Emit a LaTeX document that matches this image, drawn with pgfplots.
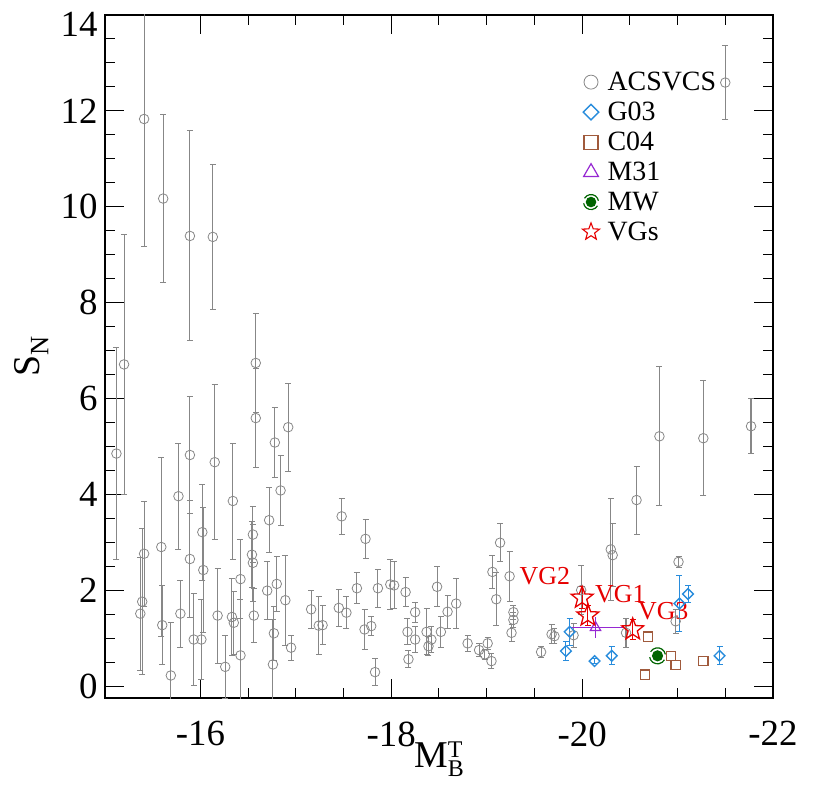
\documentclass[border=0pt]{standalone}
\usepackage{fontspec}
\setmainfont{Liberation Serif}
\usepackage{pgfplots}
\pgfplotsset{compat=1.18}

\definecolor{acsgray}{RGB}{135,135,135}
\definecolor{gblue}{RGB}{40,140,220}
\definecolor{cbrown}{RGB}{160,90,60}
\definecolor{mpurple}{RGB}{150,40,210}
\definecolor{mwgreen}{RGB}{0,100,0}
\definecolor{vgred}{RGB}{230,0,0}

% open five-pointed star
\pgfdeclareplotmark{ostar}{%
  \pgfpathmoveto{\pgfpointpolar{90}{\pgfplotmarksize}}%
  \pgfpathlineto{\pgfpointpolar{126}{0.42\pgfplotmarksize}}%
  \pgfpathlineto{\pgfpointpolar{162}{\pgfplotmarksize}}%
  \pgfpathlineto{\pgfpointpolar{198}{0.42\pgfplotmarksize}}%
  \pgfpathlineto{\pgfpointpolar{234}{\pgfplotmarksize}}%
  \pgfpathlineto{\pgfpointpolar{270}{0.42\pgfplotmarksize}}%
  \pgfpathlineto{\pgfpointpolar{306}{\pgfplotmarksize}}%
  \pgfpathlineto{\pgfpointpolar{342}{0.42\pgfplotmarksize}}%
  \pgfpathlineto{\pgfpointpolar{18}{\pgfplotmarksize}}%
  \pgfpathlineto{\pgfpointpolar{54}{0.42\pgfplotmarksize}}%
  \pgfpathclose\pgfusepathqstroke}

% milky way: filled disc with two arms
\pgfdeclareplotmark{mw}{%
  \pgfpathcircle{\pgfpointorigin}{0.62\pgfplotmarksize}\pgfusepathqfillstroke
  \pgfpathmoveto{\pgfpointpolar{10}{\pgfplotmarksize}}%
  \pgfpatharc{10}{150}{\pgfplotmarksize}%
  \pgfpathmoveto{\pgfpointpolar{190}{\pgfplotmarksize}}%
  \pgfpatharc{190}{330}{\pgfplotmarksize}%
  \pgfusepathqstroke}

\begin{document}
\begin{tikzpicture}
\begin{axis}[
  at={(0,0)}, anchor=south west,
  scale only axis, width=668bp, height=683bp,
  x dir=reverse,
  xmin=-22, xmax=-15, ymin=-0.25, ymax=14,
  xtick={-16,-18,-20,-22},
  xticklabels={-16,-18,-20,-22},
  minor x tick num=3,
  ytick={0,2,4,6,8,10,12,14},
  yticklabels={0,2,4,6,8,10,12,\raisebox{-9bp}[\height][\depth]{14}},
  minor y tick num=3,
  major tick length=19bp, minor tick length=10bp,
  tick style={black, line width=1bp},
  axis line style={line width=1.3bp},
  tick label style={font=\fontsize{37}{40}\selectfont},
  xticklabel style={yshift=-20bp},
  yticklabel style={xshift=-4bp},
  xlabel={M\raisebox{-9bp}{\fontsize{24}{21}\selectfont\shortstack[l]{T\\B}}},
  ylabel={S\textsubscript{N}},
  label style={font=\fontsize{38}{40}\selectfont},
  xlabel style={at={(axis description cs:0.5,-0.09)}, anchor=center},
  ylabel style={at={(axis description cs:-0.11,0.5)}, anchor=center},
  legend style={draw=none, fill=none, at={(axis description cs:0.71,0.921)},
    anchor=north west, font=\fontsize{28}{30}\selectfont,
    row sep=8bp, column sep=7bp, nodes={inner sep=1bp}},
  legend cell align=left,
  legend image code/.code={\draw[mark repeat=2,mark phase=2,#1]
    plot coordinates {(0bp,0bp) (9bp,0bp) (18bp,0bp)};},
]

% ACSVCS
\addplot[forget plot, only marks, mark=o, mark size=4.8bp, color=acsgray,
  mark options={line width=0.8bp},
  error bars/.cd, y dir=both, y explicit,
  error bar style={acsgray, line width=1.1bp},
  error mark options={rotate=90, mark size=3bp, acsgray, line width=1bp}]
coordinates {
(-15.41,11.83) +- (0,2.67)
(-15.61,10.17) +- (0,1.76)
(-15.89,9.39) +- (0,2.19)
(-16.13,9.37) +- (0,1.52)
(-15.12,4.85) +- (0,2.22)
(-15.20,6.71) +- (0,2.72)
(-15.37,1.51) +- (0,1.18)
(-15.39,1.76) +- (0,1.52)
(-15.41,2.76) +- (0,1.10)
(-15.59,2.90) +- (0,1.87)
(-15.60,1.27) +- (0,0.82)
(-15.69,0.22) +- (0,1.10)
(-15.77,3.96) +- (0,1.11)
(-15.79,1.51) +- (0,0.70)
(-15.89,4.82) +- (0,1.22)
(-15.89,2.65) +- (0,1.22)
(-15.93,0.97) +- (0,0.96)
(-16.01,0.97) +- (0,0.83)
(-16.02,3.21) +- (0,1.00)
(-16.03,2.42) +- (0,1.30)
(-16.15,4.67) +- (0,1.62)
(-16.18,1.47) +- (0,0.99)
(-16.26,0.40) +- (0,0.65)
(-16.34,3.86) +- (0,1.21)
(-16.33,1.44) +- (0,0.81)
(-16.35,1.32) +- (0,0.66)
(-16.42,0.64) +- (0,1.17)
(-16.42,2.23) +- (0,0.83)
(-16.55,3.16) +- (0,0.58)
(-16.54,2.74) +- (0,0.69)
(-16.55,2.57) +- (0,0.80)
(-16.56,1.47) +- (0,0.57)
(-16.58,6.74) +- (0,1.03)
(-16.58,5.59) +- (0,1.03)
(-16.72,3.46) +- (0,0.68)
(-16.70,1.99) +- (0,0.60)
(-16.78,5.08) +- (0,0.73)
(-16.77,1.10) +- (0,0.56)
(-16.80,2.13) +- (0,0.58)
(-16.76,0.45) +- (0,0.94)
(-16.84,4.08) +- (0,0.73)
(-16.89,1.79) +- (0,0.94)
(-16.92,5.40) +- (0,0.92)
(-16.95,0.80) +- (0,0.26)
(-17.16,1.60) +- (0,0.40)
(-17.24,1.26) +- (0,0.60)
(-17.28,1.27) +- (0,0.40)
(-17.48,3.54) +- (0,0.38)
(-17.45,1.63) +- (0,0.38)
(-17.53,1.53) +- (0,0.33)
(-17.73,3.07) +- (0,0.40)
(-17.64,2.04) +- (0,0.32)
(-17.72,1.18) +- (0,0.42)
(-17.79,1.25) +- (0,0.19)
(-17.83,0.29) +- (0,0.28)
(-17.86,2.04) +- (0,0.40)
(-17.99,2.12) +- (0,0.52)
(-18.03,2.10) +- (0,0.49)
(-18.15,1.96) +- (0,0.30)
(-18.17,1.13) +- (0,0.27)
(-18.18,0.56) +- (0,0.18)
(-18.25,1.54) +- (0,0.21)
(-18.25,0.97) +- (0,0.27)
(-18.37,1.13) +- (0,0.48)
(-18.39,0.83) +- (0,0.20)
(-18.42,0.97) +- (0,0.27)
(-18.48,2.07) +- (0,0.42)
(-18.52,1.13) +- (0,0.33)
(-18.59,1.55) +- (0,0.34)
(-18.68,1.72) +- (0,0.52)
(-18.80,0.89) +- (0,0.17)
(-18.92,0.75) +- (0,0.14)
(-18.98,0.66) +- (0,0.10)
(-19.01,0.89) +- (0,0.12)
(-19.05,0.52) +- (0,0.16)
(-19.06,2.38) +- (0,0.34)
(-19.10,1.81) +- (0,0.55)
(-19.14,2.99) +- (0,0.40)
(-19.24,2.29) +- (0,0.52)
(-19.28,1.54) +- (0,0.15)
(-19.28,1.38) +- (0,0.15)
(-19.26,1.11) +- (0,0.18)
(-19.57,0.71) +- (0,0.12)
(-19.68,1.08) +- (0,0.20)
(-19.71,1.04) +- (0,0.15)
(-19.91,1.06) +- (0,0.25)
(-19.99,2.00) +- (0,0.51)
(-20.30,2.85) +- (0,1.06)
(-20.32,2.73) +- (0,0.66)
(-20.57,3.88) +- (0,0.71)
(-20.81,5.21) +- (0,1.45)
(-21.27,5.17) +- (0,1.20)
(-21.77,5.42) +- (0,0.57)
(-21.01,2.59) +- (0,0.12)
(-20.98,1.35) +- (0,0.25)
(-20.46,1.11) +- (0,0.30)
(-21.50,12.59) +- (0,0.77)
};

% G03
\addplot[forget plot, only marks, mark=square, mark size=3.8bp, color=gblue,
  mark options={rotate=45, line width=1.4bp},
  error bars/.cd, y dir=both, y explicit,
  error bar style={gblue, line width=1.1bp},
  error mark options={rotate=90, mark size=3bp, gblue, line width=1bp}]
coordinates {
(-19.87,1.13) +- (0,0.28)
(-19.83,0.73) +- (0,0.19)
(-20.13,0.52) +- (0,0.06)
(-20.31,0.63) +- (0,0.19)
(-21.02,1.72) +- (0,0.59)
(-21.11,1.92) +- (0,0.18)
(-21.44,0.63) +- (0,0.19)
};

% C04
\addplot[forget plot, only marks, mark=square, mark size=4.6bp, color=cbrown,
  mark options={line width=1.2bp}]
coordinates {
(-20.69,1.03) (-20.66,0.24) (-20.93,0.63) (-20.98,0.44) (-21.27,0.52)
};

% M31
\addplot[forget plot, only marks, mark=triangle, mark size=6bp, color=mpurple,
  mark options={line width=1.2bp},
  error bars/.cd, x dir=both, x explicit, y dir=both, y explicit,
  error bar style={mpurple, line width=1.1bp},
  error mark options={mark size=3bp, mpurple, line width=1bp}]
coordinates {
(-20.14,1.22) +- (0.26,0.15)
};

% MW
\addplot[forget plot, only marks, mark=mw, mark size=8bp, color=mwgreen,
  mark options={line width=1.2bp}]
coordinates {(-20.79,0.63)};

% VGs
\addplot[forget plot, only marks, mark=ostar, mark size=11.5bp, color=vgred,
  mark options={line width=1.3bp},
  error bars/.cd, y dir=both, y explicit,
  error bar style={vgred, line width=1.1bp},
  error mark options={rotate=90, mark size=3bp, vgred, line width=1bp}]
coordinates {
(-20.00,1.84) +- (0,0.23)
(-20.06,1.47) +- (0,0.20)
(-20.53,1.18) +- (0,0.20)
};

\node[text=vgred, font=\fontsize{26}{28}\selectfont] at (axis cs:-19.61,2.29) {VG2};
\node[text=vgred, font=\fontsize{26}{28}\selectfont] at (axis cs:-20.40,1.91) {VG1};
\node[text=vgred, font=\fontsize{26}{28}\selectfont] at (axis cs:-20.85,1.56) {VG3};

\addlegendimage{only marks, mark=o, mark size=7bp, color=acsgray, mark options={line width=0.8bp}}
\addlegendentry{ACSVCS}
\addlegendimage{only marks, mark=square, mark size=5.5bp, color=gblue, mark options={rotate=45, line width=1.4bp}}
\addlegendentry{G03}
\addlegendimage{only marks, mark=square, mark size=7bp, color=cbrown, mark options={line width=1.2bp}}
\addlegendentry{C04}
\addlegendimage{only marks, mark=triangle, mark size=8.5bp, color=mpurple, mark options={line width=1.2bp}}
\addlegendentry{M31}
\addlegendimage{only marks, mark=mw, mark size=7.5bp, color=mwgreen, mark options={line width=1.2bp}}
\addlegendentry{MW}
\addlegendimage{only marks, mark=ostar, mark size=9bp, color=vgred, mark options={line width=1.1bp}}
\addlegendentry{VGs}
\end{axis}
\pgfresetboundingbox
\path[use as bounding box] (-105bp,-104bp) rectangle (710bp,698bp);
\end{tikzpicture}
\end{document}
